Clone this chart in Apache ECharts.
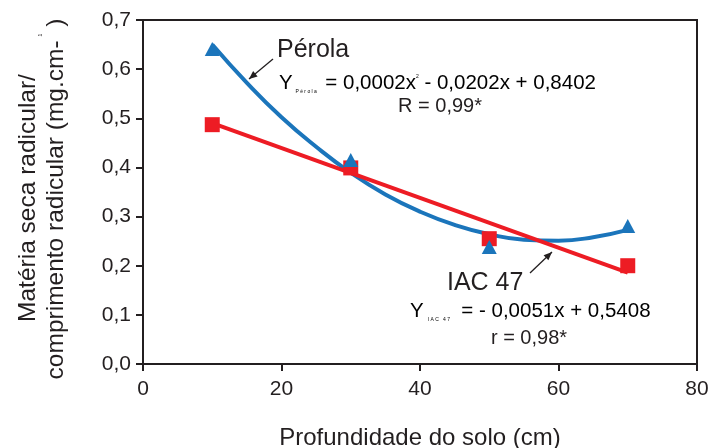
<!DOCTYPE html>
<html><head><meta charset="utf-8">
<script src="https://cdn.jsdelivr.net/npm/echarts@6/dist/echarts.min.js"></script>
<style>html,body{margin:0;padding:0;background:#fff}#c{width:710px;height:448px}</style>
</head><body><div id="c"></div>
<script>
const depths = [10, 30, 50, 70];
const perolaValues = [0.641, 0.415, 0.238, 0.281];
const iacValues = [0.487, 0.399, 0.255, 0.200];
const perolaCurveX = [10, 15, 20, 25, 30, 35, 40, 45, 50, 55, 60, 65, 70];
const perolaCurveY = [0.650, 0.572, 0.502, 0.442, 0.389, 0.345, 0.310, 0.283, 0.264, 0.253, 0.251, 0.258, 0.273];
const iacLineX = [10, 70];
const iacLineY = [0.490, 0.186];
const xTicks = [0, 20, 40, 60, 80];

const FONT = 'Liberation Sans, Arial, sans-serif';
const INK = '#231f20';
const blue = '#1b75bb', red = '#ed1c24';
const chart = echarts.init(document.getElementById('c'));
const zip = (a, b) => a.map((v, i) => [v, b[i]]);

function arrow(x1, y1, x2, y2) {
  const ang = Math.atan2(y2 - y1, x2 - x1), L = 9, w = 0.4;
  return [
    {type: 'line', shape: {x1, y1, x2, y2}, style: {stroke: INK, lineWidth: 1.3}},
    {type: 'polygon', shape: {points: [[x2, y2],
      [x2 - L * Math.cos(ang - w), y2 - L * Math.sin(ang - w)],
      [x2 - L * Math.cos(ang + w), y2 - L * Math.sin(ang + w)]]}, style: {fill: INK}}
  ];
}
const rich = {
  n: {fontSize: 20.5, fontFamily: FONT, color: INK},
  sub: {fontSize: 5, fontFamily: FONT, color: INK, padding: [16, 0, 0, 0]},
  sup: {fontSize: 5, fontFamily: FONT, color: INK, padding: [0, 0, 14, 0]}
};

chart.setOption({
  animation: false,
  grid: {left: 143, right: 13, top: 20, bottom: 84, show: true, borderColor: INK, borderWidth: 2,
    containLabel: false, outerBoundsMode: 'none'},
  xAxis: {
    type: 'value', min: 0, max: 80, interval: 20,
    name: 'Profundidade do solo (cm)', nameLocation: 'middle', nameGap: 62,
    nameTextStyle: {fontSize: 24, fontFamily: FONT, color: INK},
    axisLine: {lineStyle: {color: INK, width: 2}},
    axisTick: {length: 7, lineStyle: {color: INK, width: 2}},
    axisLabel: {fontSize: 21, fontFamily: FONT, color: INK, margin: 15,
      formatter: v => xTicks.includes(v) ? String(v) : ''},
    splitLine: {show: false}
  },
  yAxis: {
    type: 'value', min: 0, max: 0.7, interval: 0.1,
    axisLine: {show: true, lineStyle: {color: INK, width: 2}},
    axisTick: {show: true, length: 7, lineStyle: {color: INK, width: 2}},
    axisLabel: {fontSize: 21, fontFamily: FONT, color: INK, margin: 12,
      formatter: v => v.toFixed(1).replace('.', ',')},
    splitLine: {show: false}
  },
  series: [
    {type: 'line', data: zip(perolaCurveX, perolaCurveY), smooth: true, symbol: 'none',
      lineStyle: {color: blue, width: 4}, z: 2},
    {type: 'line', data: zip(iacLineX, iacLineY), symbol: 'none',
      lineStyle: {color: red, width: 4}, z: 3},
    {type: 'scatter', data: zip(depths, iacValues), symbol: 'rect', symbolSize: 15,
      itemStyle: {color: red, opacity: 1}, z: 4},
    {type: 'scatter', data: zip(depths, perolaValues), symbol: 'triangle', symbolSize: [15, 14],
      itemStyle: {color: blue, opacity: 1}, z: 5}
  ],
  graphic: [
    {type: 'text', x: 28, y: 198, rotation: Math.PI / 2,
      style: {text: 'Matéria seca radicular/', fontSize: 24.5, fontFamily: FONT, fill: INK,
        align: 'center', verticalAlign: 'middle'}},
    {type: 'text', x: 56, y: 199, rotation: Math.PI / 2,
      style: {text: 'comprimento radicular (mg.cm-  )', fontSize: 24.5, fontFamily: FONT, fill: INK,
        align: 'center', verticalAlign: 'middle'}},
    {type: 'text', x: 41, y: 35, rotation: Math.PI / 2,
      style: {text: '1', fontSize: 5, fontFamily: FONT, fill: INK, align: 'center', verticalAlign: 'middle'}},
    {type: 'text', x: 277, y: 38, style: {text: 'Pérola', fontSize: 25, fontFamily: FONT, fill: INK}},
    {type: 'text', x: 279, y: 73, style: {text: '{n|Y}{sub|  P é r o l a  }{n| = 0,0002x}{sup|2}{n| - 0,0202x + 0,8402}', rich}},
    {type: 'text', x: 440, y: 106, style: {text: 'R = 0,99*', fontSize: 20, fontFamily: FONT, fill: INK, align: 'center', verticalAlign: 'middle'}},
    ...arrow(273, 59, 249, 79),
    {type: 'text', x: 447, y: 271, style: {text: 'IAC 47', fontSize: 25, fontFamily: FONT, fill: INK}},
    {type: 'text', x: 410, y: 301, style: {text: '{n|Y}{sub|   I A C   4 7    }{n| = - 0,0051x + 0,5408}', rich}},
    {type: 'text', x: 529, y: 338, style: {text: 'r = 0,98*', fontSize: 20, fontFamily: FONT, fill: INK, align: 'center', verticalAlign: 'middle'}},
    ...arrow(530, 273, 552, 252)
  ]
});
</script></body></html>
